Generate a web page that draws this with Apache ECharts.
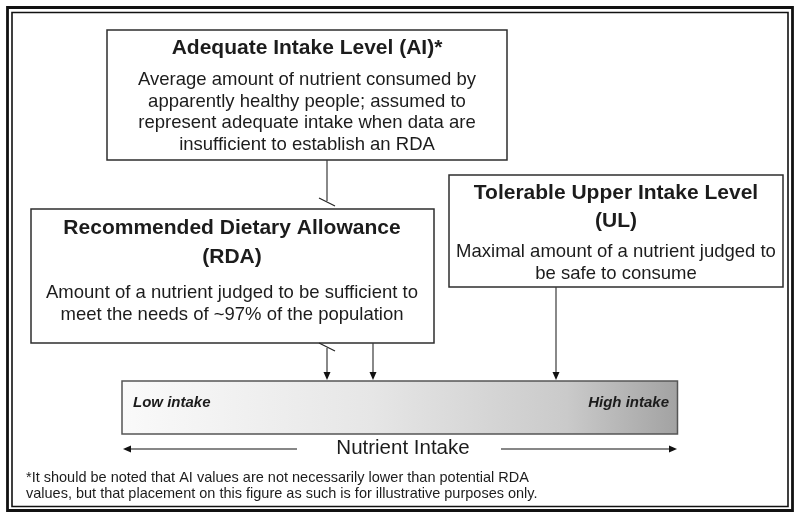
<!DOCTYPE html>
<html>
<head>
<meta charset="utf-8">
<script src="https://cdn.jsdelivr.net/npm/echarts@6/dist/echarts.min.js"></script>
<style>
  html, body { margin: 0; padding: 0; background: #fff; }
  #chart { width: 794px; height: 512px; }
</style>
</head>
<body>
<div id="chart"></div>
<script>
// texts of the diagram
const aiTitle = ['Adequate Intake Level (AI)*'];
const aiLines = [
  'Average amount of nutrient consumed by',
  'apparently healthy people; assumed to',
  'represent adequate intake when data are',
  'insufficient to establish an RDA'
];
const rdaTitle = ['Recommended Dietary Allowance', '(RDA)'];
const rdaLines = [
  'Amount of a nutrient judged to be sufficient to',
  'meet the needs of ~97% of the population'
];
const ulTitle = ['Tolerable Upper Intake Level', '(UL)'];
const ulLines = [
  'Maximal amount of a nutrient judged to',
  'be safe to consume'
];
const scaleLabels = ['Low intake', 'High intake'];
const axisTitle = 'Nutrient Intake';
const footnote = [
  '*It should be noted that AI values are not necessarily lower than potential RDA',
  'values, but that placement on this figure as such is for illustrative purposes only.'
];

const FONT = "'Liberation Sans', Arial, Helvetica, sans-serif";
const INK = '#1c1c1c';
const LINE = '#3a3a3a';

const chart = echarts.init(document.getElementById('chart'));

function box(x, y, w, h) {
  return { type: 'rect', shape: { x: x, y: y, width: w, height: h },
    style: { fill: '#fff', stroke: '#2e2e2e', lineWidth: 1.5 }, z: 2 };
}
function seg(x1, y1, x2, y2, w, c) {
  return { type: 'line', shape: { x1: x1, y1: y1, x2: x2, y2: y2 },
    style: { stroke: c || LINE, lineWidth: w || 1.2 }, z: 3 };
}
function txt(x, y, s, font, align) {
  return { type: 'text', x: x, y: y, z: 4,
    style: { text: s, font: font, fill: INK, textAlign: align || 'center', textVerticalAlign: 'middle' } };
}
function headDown(x, y) {
  return { type: 'polygon', z: 3, shape: { points: [[x - 3.5, y - 8], [x + 3.5, y - 8], [x, y]] }, style: { fill: '#111' } };
}
function headSide(x, y, dir) {
  return { type: 'polygon', z: 3, shape: { points: [[x - dir * 8, y - 3.5], [x - dir * 8, y + 3.5], [x, y]] }, style: { fill: '#111' } };
}
function lines(arr, cx, y0, step, font) {
  return arr.map(function (s, i) { return txt(cx, y0 + i * step, s, font); });
}

const titleFont = 'bold 21px ' + FONT;
const bodyFont = '18.5px ' + FONT;

let g = [];
// double frame
g.push({ type: 'rect', shape: { x: 7.5, y: 7.5, width: 785, height: 503 }, style: { fill: 'none', stroke: '#111', lineWidth: 2.8 } });
g.push({ type: 'rect', shape: { x: 12, y: 12.5, width: 776, height: 494 }, style: { fill: 'none', stroke: '#111', lineWidth: 1.6 } });

// AI box
g.push(box(107, 30, 400, 130));
g = g.concat(lines(aiTitle, 307, 48, 29, titleFont));
g = g.concat(lines(aiLines, 307, 80, 21.7, bodyFont));

// RDA box
g.push(box(31, 209, 403, 134));
g = g.concat(lines(rdaTitle, 232, 228, 29, titleFont));
g = g.concat(lines(rdaLines, 232, 293, 22, bodyFont));

// UL box
g.push(box(449, 175, 334, 112));
g = g.concat(lines(ulTitle, 616, 193, 28, titleFont));
g = g.concat(lines(ulLines, 616, 252, 21.5, bodyFont));

// connectors
g.push(seg(327, 160, 327, 201));
g.push(seg(319, 198, 335, 206, 1.2, '#222'));
g.push(seg(319, 343, 335, 351, 1.2, '#222'));
g.push(seg(327, 348, 327, 373));
g.push(headDown(327, 380));
g.push(seg(373, 343, 373, 373));
g.push(headDown(373, 380));
g.push(seg(556, 287, 556, 373));
g.push(headDown(556, 380));

// intake bar
g.push({ type: 'rect', z: 2, shape: { x: 122, y: 381, width: 555.5, height: 53 },
  style: {
    stroke: '#555', lineWidth: 1.5,
    fill: new echarts.graphic.LinearGradient(0, 0, 1, 0, [
      { offset: 0, color: '#fafafa' },
      { offset: 0.45, color: '#e6e6e6' },
      { offset: 0.8, color: '#cacaca' },
      { offset: 1, color: '#a2a2a2' }
    ])
  } });
g.push(txt(133, 403, scaleLabels[0], 'italic bold 15px ' + FONT, 'left'));
g.push(txt(669, 403, scaleLabels[1], 'italic bold 15px ' + FONT, 'right'));

// axis arrows and title
g.push(txt(403, 448, axisTitle, '20.5px ' + FONT));
g.push(seg(297, 449, 128, 449, 1.2, '#111'));
g.push(headSide(123, 449, -1));
g.push(seg(501, 449, 672, 449, 1.2, '#111'));
g.push(headSide(677, 449, 1));

// footnote
footnote.forEach(function (s, i) {
  g.push(txt(26, 478 + i * 15.5, s, '14.5px ' + FONT, 'left'));
});

chart.setOption({
  backgroundColor: '#fff',
  animation: false,
  graphic: { elements: g }
});
</script>
</body>
</html>
